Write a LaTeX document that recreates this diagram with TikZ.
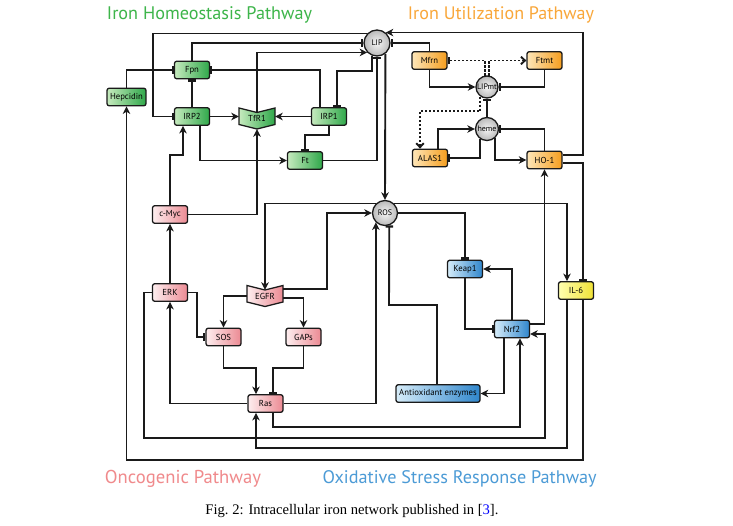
\documentclass[tikz,border=0pt]{standalone}
\usepackage{graphicx}
\usepackage{fontspec}
\setmainfont{Liberation Serif}
\newfontfamily\labfont{PT Sans}
\usetikzlibrary{arrows.meta,calc}
\definecolor{gL}{HTML}{C6EABE}\definecolor{gR}{HTML}{2FA84A}
\definecolor{oL}{HTML}{FEE6B8}\definecolor{oR}{HTML}{F59E1E}
\definecolor{pL}{HTML}{FDEEEF}\definecolor{pR}{HTML}{EC8A93}
\definecolor{bL}{HTML}{D6ECF9}\definecolor{bR}{HTML}{2F86CC}
\definecolor{yL}{HTML}{FFFFB0}\definecolor{yR}{HTML}{F0E236}
\definecolor{tG}{HTML}{3DB54A}\definecolor{tO}{HTML}{F9A73A}
\definecolor{tP}{HTML}{F08A8C}\definecolor{tB}{HTML}{4C9BD6}
\definecolor{ln}{HTML}{1A1A1A}
\newcommand\receptor[6]{%
  \begin{scope}[shift={(#2,#3)}]
    \shade[left color=#5, right color=#6, draw=ln, line width=1.3pt, line join=miter]
      (-18,-10.5) -- (0,-6) -- (18,-10.5) -- (18,6) -- (0,10.5) -- (-18,6) -- cycle;
  \end{scope}
  \node[rectext] (#1) at (#2,#3) {#4};}
\begin{document}
\begin{tikzpicture}[x=1pt,y=-1pt,
  box/.style={rectangle, rounded corners=2.2pt, draw=ln, line width=1.3pt,
    minimum width=35pt, minimum height=17.5pt, inner sep=0pt,
    font=\labfont\fontsize{8.7}{9}\selectfont, text=black},
  gbox/.style={box, left color=gL, right color=gR},
  obox/.style={box, left color=oL, right color=oR},
  pbox/.style={box, left color=pL, right color=pR},
  bbox/.style={box, left color=bL, right color=bR},
  ybox/.style={box, left color=yL, right color=yR},
  rectext/.style={rectangle, minimum width=36pt, minimum height=21pt, inner sep=0pt,
    font=\labfont\fontsize{8.7}{9}\selectfont, text=black},
  ball/.style={circle, draw=ln, line width=1.3pt, inner sep=0pt,
    inner color=gray!8, outer color=gray!55,
    font=\labfont\fontsize{8}{8}\selectfont, text=black},
  conn/.style={line width=1.9pt, draw=ln},
  act/.style={conn, -{Stealth[length=7.5pt,width=7.5pt,inset=2.2pt]}},
  inh/.style={conn, -{Bar[width=7.5pt,line width=2.2pt]}},
  dotact/.style={conn, dash pattern=on 2.2pt off 1.8pt, -{Straight Barb[length=4pt,width=7.5pt]}},
  dotinh/.style={conn, dash pattern=on 2.2pt off 1.8pt, -{Bar[width=7.5pt,line width=2.2pt]}},
  ttl/.style={font=\labfont, inner sep=0pt}
]
\useasboundingbox (0,0) rectangle (733,525);
\fill[white] (0,0) rectangle (733,525);

% titles
\node[ttl, text=tG] (tHome) at (209.5,15) {\resizebox{205pt}{!}{Iron Homeostasis Pathway}};
\node[ttl, text=tO] (tUtil) at (501,15) {\resizebox{186pt}{!}{Iron Utilization Pathway}};
\node[ttl, text=tP] (tOnc) at (183,479) {\resizebox{156pt}{!}{Oncogenic Pathway}};
\node[ttl, text=tB] (tOx) at (459.7,479) {\resizebox{274pt}{!}{Oxidative Stress Response Pathway}};
\node[inner sep=0pt] (cap) at (352,511) {\resizebox{293pt}{!}{Fig.~2: Intracellular iron network published in [\textcolor{blue}{3}].}};

% nodes
\node[gbox] (Fpn) at (192,70) {Fpn};
\node[gbox, minimum width=39pt] (Hepcidin) at (126.5,97) {Hepcidin};
\node[gbox] (IRP2) at (192,116.5) {IRP2};
\receptor{TfR1}{257}{118.5}{TfR1}{gL}{gR}
\node[gbox] (IRP1) at (329,116.5) {IRP1};
\node[gbox] (Ft) at (305,160.5) {Ft};
\node[ball, minimum size=26pt] (LIP) at (377,43) {\makebox[0pt]{LIP}};
\node[obox] (Mfrn) at (429.5,60.5) {Mfrn};
\node[obox] (Ftmt) at (544.5,60.5) {Ftmt};
\node[ball, minimum size=22pt] (LIPmt) at (487,87) {\makebox[0pt]{LIPmt}};
\node[ball, minimum size=23pt] (heme) at (487,129) {\makebox[0pt]{heme}};
\node[obox] (ALAS1) at (430,158) {ALAS1};
\node[obox] (HO1) at (544.5,160) {HO-1};
\node[pbox] (cMyc) at (170,214.5) {c-Myc};
\node[ball, minimum size=25pt] (ROS) at (385,213) {\makebox[0pt]{ROS}};
\node[pbox] (ERK) at (170,292.5) {ERK};
\receptor{EGFR}{265}{296}{EGFR}{pL}{pR}
\node[bbox] (Keap1) at (465,269) {Keap1};
\node[ybox] (IL6) at (576,290.5) {IL-6};
\node[bbox] (Nrf2) at (512,329) {Nrf2};
\node[bbox, minimum width=84pt] (AE) at (438,393.5) {Antioxidant enzymes};
\node[pbox] (SOS) at (223.5,337) {SOS};
\node[pbox] (GAPs) at (303.5,337) {GAPs};
\node[pbox] (Ras) at (265.5,403.5) {Ras};

% iron homeostasis
\draw[inh] (LIP.136) -| (153,116.5) -- (IRP2.west);
\draw[inh] (Fpn.north) |- (LIP.west);
\draw[act] ([yshift=-4.5pt]TfR1.north) |- (LIP.224);
\draw[inh] (Hepcidin.north) |- (Fpn.west);
\draw[inh] (IRP1.north -| 320,0) |- (Fpn.east);
\draw[inh] (IRP2.north) -- (Fpn.south);
\draw[act] (IRP2.east) -- (IRP2.east -| TfR1.west);
\draw[act] (IRP1.west) -- (IRP1.west -| TfR1.east);
\draw[inh] (LIP.247) |- (337,71) -- (IRP1.north -| 337,0);
\draw[inh] (Ft.east) -| (LIP.south);
\draw[act] (LIP.308) -- (ROS.north);
\draw[act] (IRP2.south -| 200,0) |- (Ft.west);
\draw[inh] (IRP1.south) -- (329,135) -| (Ft.north);

% oncogenic
\draw[act] (cMyc.north) |- (183,155) -- (IRP2.south -| 183,0);
\draw[act] (cMyc.east) -| (TfR1.south);
\draw[act] (ERK.north) -- (cMyc.south);
\draw[act] (Ras.west) -| (ERK.south);
\draw[inh] (ERK.east) -- (197,292.5) |- (SOS.west);
\draw[act] (ERK.west) -- (144,292.5) -- (144,438) -- (545,438) -- (545,334) -- (Nrf2.east |- 0,334);
\draw[act] (EGFR.west) -| (SOS.north);
\draw[act] (EGFR.east |- 0,298) -| (GAPs.north);
\draw[act] (EGFR.east |- 0,289) -- (327,289) |- (ROS.west);
\draw[act] (ROS.134) -| ([yshift=-4.5pt]EGFR.north);
\draw[act] (SOS.south) |- (256,368) -- (Ras.north -| 256,0);
\draw[inh] (GAPs.south) |- (273,368) -- (Ras.north -| 273,0);
\draw[act] (Ras.east) -| (ROS.226);

% oxidative stress
\draw[inh] (AE.north -| 437,0) |- (389,305) -- (ROS.289);
\draw[inh] (ROS.east) -| (Keap1.north);
\draw[act] (ROS.46) -| (IL6.north -| 567,0);
\draw[inh] (Keap1.south) |- (Nrf2.west);
\draw[act] (Nrf2.north) |- (Keap1.east);
\draw[act] (Nrf2.east |- 0,324) -| (HO1.south);
\draw[act] (Nrf2.south -| 504,0) |- (AE.east);
\draw[act] (Ras.south -| 273,0) |- (520,427) -- (Nrf2.south -| 520,0);
\draw[act] (IL6.south -| 567,0) |- (256,448) -- (Ras.south -| 256,0);
\draw[act] (IL6.south -| 583,0) -- (583,460) -| (Hepcidin.south);

% iron utilization
\draw[act] (HO1.east |- 0,155) -| (LIP.50 -| 583,0) -- (LIP.50);
\draw[inh] (HO1.east |- 0,163) -| (IL6.north -| 583,0);
\draw[inh] (Mfrn.north) |- (LIP.east);
\draw[act] (Mfrn.south) |- (LIPmt.west);
\draw[dotinh] (LIPmt.100) |- (Mfrn.east);
\draw[dotact] (LIPmt.80) |- (Ftmt.west);
\draw[inh] (Ftmt.south) |- (LIPmt.east);
\draw[inh] (heme.north) -- (LIPmt.south);
\draw[dotact] (LIPmt.235) |- (420,111) -- (ALAS1.north -| 420,0);
\draw[act] (ALAS1.north -| 438,0) |- (heme.west);
\draw[inh] (heme.233) |- (ALAS1.east);
\draw[act] (heme.312) |- (HO1.west);
\draw[inh] (HO1.north) |- (heme.east);
\end{tikzpicture}
\end{document}
